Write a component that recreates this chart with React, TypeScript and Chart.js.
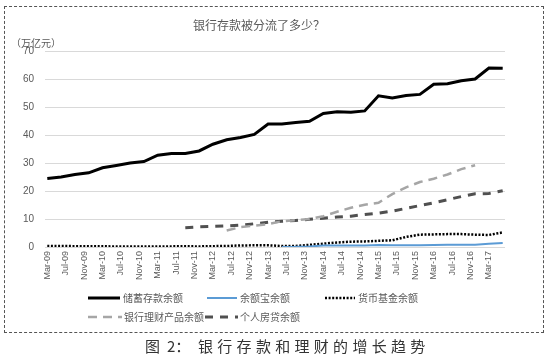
import React, { useEffect, useRef } from 'react';
import { Chart, registerables } from 'chart.js';

Chart.register(...registerables);

// Quarter-end dates of the observations
const quarters = [
  '2009-03', '2009-06', '2009-09', '2009-12',
  '2010-03', '2010-06', '2010-09', '2010-12',
  '2011-03', '2011-06', '2011-09', '2011-12',
  '2012-03', '2012-06', '2012-09', '2012-12',
  '2013-03', '2013-06', '2013-09', '2013-12',
  '2014-03', '2014-06', '2014-09', '2014-12',
  '2015-03', '2015-06', '2015-09', '2015-12',
  '2016-03', '2016-06', '2016-09', '2016-12',
  '2017-03', '2017-06',
];

// Axis tick labels (every 4 months)
const tickLabels = [
  'Mar-09', 'Jul-09', 'Nov-09', 'Mar-10', 'Jul-10', 'Nov-10', 'Mar-11', 'Jul-11', 'Nov-11',
  'Mar-12', 'Jul-12', 'Nov-12', 'Mar-13', 'Jul-13', 'Nov-13', 'Mar-14', 'Jul-14', 'Nov-14',
  'Mar-15', 'Jul-15', 'Nov-15', 'Mar-16', 'Jul-16', 'Nov-16', 'Mar-17',
];

const yTicks = [0, 10, 20, 30, 40, 50, 60, 70];

const seriesNames = ['储蓄存款余额', '余额宝余额', '货币基金余额', '银行理财产品余额', '个人房贷余额'];

// 储蓄存款余额 (万亿元)
const savings = [
  24.5, 25.0, 25.9, 26.5, 28.3, 29.1, 30.0, 30.5, 32.8, 33.4, 33.4, 34.3,
  36.7, 38.3, 39.1, 40.2, 43.9, 43.9, 44.5, 44.9, 47.7, 48.3, 48.1, 48.6,
  54.0, 53.2, 54.1, 54.5, 58.1, 58.3, 59.4, 60.0, 63.9, 63.8,
];

// 余额宝余额
const yuebao = [
  null, null, null, null, null, null, null, null, null, null, null, null,
  null, null, null, null, null, 0.04, 0.06, 0.19, 0.54, 0.57, 0.53, 0.58,
  0.72, 0.61, 0.60, 0.62, 0.75, 0.76, 0.79, 0.81, 1.14, 1.43,
];

// 货币基金余额
const moneyFund = [
  0.40, 0.35, 0.30, 0.26, 0.25, 0.20, 0.18, 0.15, 0.20, 0.22, 0.25, 0.21,
  0.30, 0.35, 0.55, 0.60, 0.60, 0.35, 0.40, 0.75, 1.20, 1.60, 1.90, 2.00,
  2.20, 2.40, 3.60, 4.40, 4.50, 4.60, 4.60, 4.40, 4.30, 5.20,
];

// 银行理财产品余额
const bankWmp = [
  null, null, null, null, null, null, null, null, null, null, null, null,
  null, 5.9, 7.1, 7.6, 8.2, 9.2, 9.6, 10.0, 11.0, 12.6, 14.0, 15.1,
  15.8, 18.9, 21.3, 23.2, 24.4, 25.9, 27.8, 29.2, null, null,
];

// 个人房贷余额
const mortgage = [
  null, null, null, null, null, null, null, null, null, null, 6.9, 7.2,
  7.35, 7.5, 7.8, 8.3, 8.8, 9.2, 9.5, 9.9, 10.3, 10.7, 11.0, 11.6,
  12.1, 12.8, 13.8, 14.8, 15.8, 16.9, 18.0, 19.0, 19.1, 20.1,
];

const MONTHS = ['Jan', 'Feb', 'Mar', 'Apr', 'May', 'Jun', 'Jul', 'Aug', 'Sep', 'Oct', 'Nov', 'Dec'];
const quarterIndex = (q: string) => {
  const [y, m] = q.split('-').map(Number);
  return (y - 2009) * 12 + (m - 3);
};
const tickIndex = (t: string) => {
  const [mon, yy] = t.split('-');
  return (2000 + Number(yy) - 2009) * 12 + MONTHS.indexOf(mon) - 2;
};

const toPoints = (vals: (number | null)[]) =>
  quarters.map((q, i) => ({ x: quarterIndex(q), y: vals[i] }));

const FONT = "'Liberation Sans', 'Noto Sans CJK SC', sans-serif";
const CJK = "'Noto Sans CJK SC', sans-serif";

const legendPos = [
  { x: 88, y: 298, w: 32, tx: 123 },
  { x: 207, y: 298, w: 30, tx: 240 },
  { x: 325, y: 298, w: 30, tx: 358 },
  { x: 88, y: 317, w: 34, tx: 124 },
  { x: 205, y: 317, w: 33, tx: 240 },
];

const customLegend = {
  id: 'customLegend',
  afterDraw(chart: any) {
    const ctx = chart.ctx as CanvasRenderingContext2D;
    chart.data.datasets.forEach((ds: any, i: number) => {
      const p = legendPos[i];
      ctx.save();
      ctx.strokeStyle = ds.borderColor;
      ctx.lineWidth = ds.borderWidth;
      ctx.lineCap = 'butt';
      ctx.setLineDash(ds.borderDash || []);
      ctx.beginPath();
      ctx.moveTo(p.x, p.y);
      ctx.lineTo(p.x + p.w, p.y);
      ctx.stroke();
      ctx.setLineDash([]);
      ctx.fillStyle = '#595959';
      ctx.font = `10px ${CJK}`;
      ctx.textBaseline = 'middle';
      ctx.textAlign = 'left';
      ctx.fillText(ds.label, p.tx, p.y);
      ctx.restore();
    });
    ctx.save();
    ctx.fillStyle = '#595959';
    ctx.font = `10px ${CJK}`;
    ctx.textBaseline = 'middle';
    ctx.textAlign = 'left';
    ctx.fillText('（万亿元）', 11, 43);
    ctx.restore();
  },
};

export default function App() {
  const ref = useRef<HTMLCanvasElement>(null);

  useEffect(() => {
    if (!ref.current) return;
    const chart = new Chart(ref.current, {
      type: 'line',
      data: {
        datasets: [
          {
            label: seriesNames[0],
            data: toPoints(savings),
            borderColor: '#000000',
            borderWidth: 3,
            borderDash: [],
          },
          {
            label: seriesNames[1],
            data: toPoints(yuebao),
            borderColor: '#5B9BD5',
            borderWidth: 2,
            borderDash: [],
          },
          {
            label: seriesNames[2],
            data: toPoints(moneyFund),
            borderColor: '#000000',
            borderWidth: 2.5,
            borderDash: [2, 1.6],
          },
          {
            label: seriesNames[3],
            data: toPoints(bankWmp),
            borderColor: '#A6A6A6',
            borderWidth: 2.5,
            borderDash: [9, 6],
          },
          {
            label: seriesNames[4],
            data: toPoints(mortgage),
            borderColor: '#505050',
            borderWidth: 3,
            borderDash: [8, 7],
          },
        ] as any,
      },
      options: {
        animation: false,
        responsive: false,
        parsing: true,
        elements: {
          point: { radius: 0, hoverRadius: 0 },
          line: { tension: 0, fill: false },
        },
        layout: { padding: { top: 10, left: 13, right: 45, bottom: 76 } },
        plugins: {
          legend: { display: false },
          tooltip: { enabled: false },
          title: {
            display: true,
            text: '银行存款被分流了多少？',
            color: '#595959',
            font: { family: CJK, size: 12, weight: 'normal' },
            padding: { top: 8, bottom: 18.6 },
          },
        },
        scales: {
          x: {
            type: 'linear',
            min: -0.5,
            max: 99.5,
            afterBuildTicks: (scale: any) => {
              scale.ticks = tickLabels.map((t) => ({ value: tickIndex(t) }));
            },
            afterFit: (scale: any) => {
              scale.height = 40;
            },
            grid: { display: false, drawTicks: false },
            border: { display: false },
            ticks: {
              autoSkip: false,
              minRotation: 90,
              maxRotation: 90,
              padding: 4,
              color: '#595959',
              font: { family: FONT, size: 9 },
              callback: (_v: any, i: number) => tickLabels[i],
            },
          },
          y: {
            min: yTicks[0],
            max: yTicks[yTicks.length - 1],
            afterBuildTicks: (scale: any) => {
              scale.ticks = yTicks.map((v) => ({ value: v }));
            },
            afterFit: (scale: any) => {
              scale.width = 32;
            },
            grid: { color: '#D9D9D9', lineWidth: 1, drawTicks: false },
            border: { display: false },
            ticks: {
              padding: 11,
              color: '#595959',
              font: { family: FONT, size: 10 },
            },
          },
        },
      } as any,
      plugins: [customLegend],
    });
    return () => chart.destroy();
  }, []);

  return (
    <div style={{ position: 'absolute', left: 0, top: 0, width: 550, height: 363, background: '#fff' }}>
      <canvas ref={ref} width={550} height={363} style={{ position: 'absolute', left: 0, top: 0 }} />
      <div
        style={{
          position: 'absolute',
          left: 4,
          top: 6,
          width: 540,
          height: 327,
          boxSizing: 'border-box',
          border: '1px dashed #555',
          pointerEvents: 'none',
        }}
      />
      <div
        style={{
          position: 'absolute',
          top: 336,
          left: 0,
          width: 550,
          height: 20,
          fontFamily: CJK,
          fontSize: 15,
          color: '#333',
          lineHeight: '20px',
        }}
      >
        <span style={{ position: 'absolute', left: 145 }}>图</span>
        <span style={{ position: 'absolute', left: 167 }}>2：</span>
        <span style={{ position: 'absolute', left: 198, letterSpacing: '4.3px', whiteSpace: 'nowrap' }}>
          银行存款和理财的增长趋势
        </span>
      </div>
    </div>
  );
}
